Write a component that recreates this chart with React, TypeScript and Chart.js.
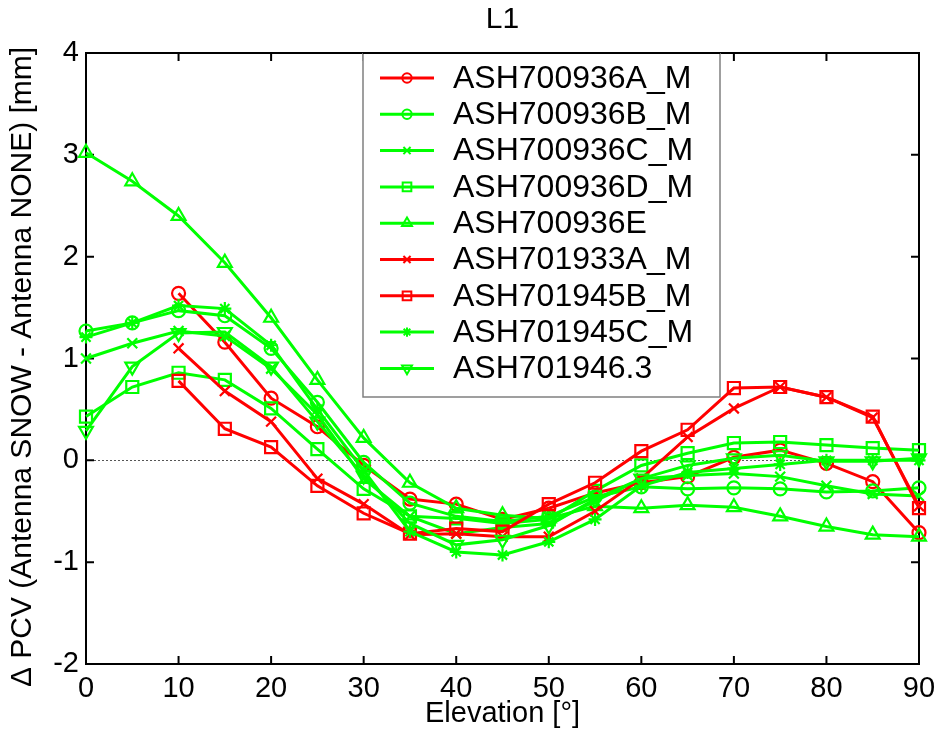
import React, { useEffect, useRef } from "react";
import { Chart, registerables } from "chart.js";

Chart.register(...registerables);

const ELEVATION = [0, 5, 10, 15, 20, 25, 30, 35, 40, 45, 50, 55, 60, 65, 70, 75, 80, 85, 90];
const X_TICKS = [0, 10, 20, 30, 40, 50, 60, 70, 80, 90];
const Y_TICKS = [-2, -1, 0, 1, 2, 3, 4];

const SERIES_NAMES = [
  "ASH700936A_M",
  "ASH700936B_M",
  "ASH700936C_M",
  "ASH700936D_M",
  "ASH700936E",
  "ASH701933A_M",
  "ASH701945B_M",
  "ASH701945C_M",
  "ASH701946.3",
];
const SERIES_COLORS = ["#ff0000", "#00ff00", "#00ff00", "#00ff00", "#00ff00", "#ff0000", "#ff0000", "#00ff00", "#00ff00"];
const SERIES_MARKERS = ["circle", "circle", "x", "square", "triangle", "x", "square", "star", "triangleDown"];

const ASH700936A_M = [null, null, 1.64, 1.16, 0.61, 0.33, -0.05, -0.38, -0.43, -0.58, -0.47, -0.32, -0.22, -0.16, 0.03, 0.1, -0.03, -0.21, -0.71];
const ASH700936B_M = [1.27, 1.35, 1.47, 1.42, 1.1, 0.57, -0.02, -0.42, -0.55, -0.6, -0.55, -0.36, -0.26, -0.28, -0.27, -0.28, -0.31, -0.3, -0.27];
const ASH700936C_M = [1.0, 1.15, 1.27, 1.22, 0.9, 0.45, -0.18, -0.55, -0.72, -0.66, -0.62, -0.4, -0.18, -0.15, -0.13, -0.16, -0.25, -0.33, -0.35];
const ASH700936D_M = [0.43, 0.72, 0.86, 0.79, 0.51, 0.11, -0.28, -0.55, -0.57, -0.62, -0.58, -0.3, -0.05, 0.07, 0.17, 0.18, 0.15, 0.12, 0.1];
const ASH700936E = [3.02, 2.74, 2.4, 1.94, 1.4, 0.79, 0.22, -0.22, -0.47, -0.54, -0.57, -0.45, -0.47, -0.44, -0.46, -0.55, -0.65, -0.73, -0.75];
const ASH701933A_M = [null, null, 1.1, 0.68, 0.38, -0.18, -0.43, -0.73, -0.72, -0.75, -0.75, -0.5, -0.18, 0.23, 0.51, 0.72, 0.62, 0.42, -0.45];
const ASH701945B_M = [null, null, 0.78, 0.31, 0.13, -0.25, -0.52, -0.72, -0.67, -0.7, -0.43, -0.22, 0.09, 0.3, 0.71, 0.72, 0.62, 0.43, -0.47];
const ASH701945C_M = [1.21, 1.35, 1.52, 1.49, 1.13, 0.5, -0.1, -0.7, -0.9, -0.93, -0.8, -0.58, -0.25, -0.12, -0.08, -0.04, 0.0, 0.0, 0.0];
const ASH701946_3 = [0.29, 0.92, 1.25, 1.26, 0.92, 0.38, -0.15, -0.62, -0.83, -0.78, -0.64, -0.38, -0.18, -0.05, 0.02, 0.05, -0.01, -0.01, 0.02];

const SERIES_VALUES = [
  ASH700936A_M,
  ASH700936B_M,
  ASH700936C_M,
  ASH700936D_M,
  ASH700936E,
  ASH701933A_M,
  ASH701945B_M,
  ASH701945C_M,
  ASH701946_3,
];

const TITLE = "L1";
const X_TITLE = "Elevation [°]";
const Y_TITLE = "Δ PCV (Antenna SNOW - Antenna NONE) [mm]";

const FONT = "'Liberation Sans', Arial, Helvetica, sans-serif";

const MARKER_STYLE: Record<string, { style: string; radius: number; rotation: number }> = {
  circle: { style: "circle", radius: 6.5, rotation: 0 },
  x: { style: "crossRot", radius: 7, rotation: 0 },
  square: { style: "rect", radius: 8.5, rotation: 0 },
  triangle: { style: "triangle", radius: 8, rotation: 0 },
  star: { style: "star", radius: 6.5, rotation: 0 },
  triangleDown: { style: "triangle", radius: 8, rotation: 180 },
};

function drawMarker(ctx: CanvasRenderingContext2D, kind: string, x: number, y: number, scale: number) {
  const m = MARKER_STYLE[kind];
  const r = m.radius * scale;
  ctx.beginPath();
  if (kind === "circle") {
    ctx.arc(x, y, r, 0, Math.PI * 2);
  } else if (kind === "x") {
    const d = r * Math.SQRT1_2;
    ctx.moveTo(x - d, y - d);
    ctx.lineTo(x + d, y + d);
    ctx.moveTo(x - d, y + d);
    ctx.lineTo(x + d, y - d);
  } else if (kind === "square") {
    const d = r * Math.SQRT1_2;
    ctx.rect(x - d, y - d, 2 * d, 2 * d);
  } else if (kind === "triangle" || kind === "triangleDown") {
    const s = kind === "triangle" ? 1 : -1;
    for (let k = 0; k < 3; k++) {
      const a = (k * 2 * Math.PI) / 3;
      const px = x + Math.sin(a) * r;
      const py = y - s * Math.cos(a) * r;
      if (k === 0) ctx.moveTo(px, py);
      else ctx.lineTo(px, py);
    }
    ctx.closePath();
  } else if (kind === "star") {
    const d = r * Math.SQRT1_2;
    ctx.moveTo(x - r, y);
    ctx.lineTo(x + r, y);
    ctx.moveTo(x, y - r);
    ctx.lineTo(x, y + r);
    ctx.moveTo(x - d, y - d);
    ctx.lineTo(x + d, y + d);
    ctx.moveTo(x - d, y + d);
    ctx.lineTo(x + d, y - d);
  }
  ctx.stroke();
}

const decorPlugin = {
  id: "decor",
  beforeDatasetsDraw(chart: any) {
    const { ctx, chartArea, scales } = chart;
    const { left, right, top, bottom } = chartArea;
    ctx.save();
    // zero dotted line
    const y0 = scales.y.getPixelForValue(0);
    ctx.strokeStyle = "#555555";
    ctx.lineWidth = 1;
    ctx.setLineDash([2, 2]);
    ctx.beginPath();
    ctx.moveTo(left, Math.round(y0) + 0.5);
    ctx.lineTo(right, Math.round(y0) + 0.5);
    ctx.stroke();
    ctx.setLineDash([]);
    // frame
    ctx.strokeStyle = "#000000";
    ctx.lineWidth = 2;
    ctx.strokeRect(left, top, right - left, bottom - top);
    // inward ticks
    const tl = 8;
    ctx.beginPath();
    X_TICKS.forEach((v) => {
      const x = scales.x.getPixelForValue(v);
      ctx.moveTo(x, bottom);
      ctx.lineTo(x, bottom - tl);
      ctx.moveTo(x, top);
      ctx.lineTo(x, top + tl);
    });
    Y_TICKS.forEach((v) => {
      const y = scales.y.getPixelForValue(v);
      ctx.moveTo(left, y);
      ctx.lineTo(left + tl, y);
      ctx.moveTo(right, y);
      ctx.lineTo(right - tl, y);
    });
    ctx.stroke();
    ctx.restore();
  },
  afterDatasetsDraw(chart: any) {
    const { ctx, chartArea } = chart;
    ctx.save();
    // legend box
    const lx = 363;
    const ly = chartArea.top;
    const lw = 357;
    const lh = 344;
    ctx.fillStyle = "#ffffff";
    ctx.fillRect(lx, ly + 1, lw, lh - 1);
    ctx.strokeStyle = "#808080";
    ctx.lineWidth = 1.5;
    ctx.beginPath();
    ctx.moveTo(lx, ly);
    ctx.lineTo(lx, ly + lh);
    ctx.lineTo(lx + lw, ly + lh);
    ctx.lineTo(lx + lw, ly);
    ctx.stroke();
    ctx.strokeStyle = "#000000";
    ctx.lineWidth = 2;
    ctx.beginPath();
    ctx.moveTo(lx, ly);
    ctx.lineTo(lx + lw, ly);
    ctx.stroke();
    ctx.font = `32px ${FONT}`;
    ctx.textBaseline = "middle";
    ctx.textAlign = "left";
    SERIES_NAMES.forEach((name, i) => {
      const y = 78 + i * 36.3;
      ctx.strokeStyle = SERIES_COLORS[i];
      ctx.lineWidth = 3;
      ctx.beginPath();
      ctx.moveTo(380, y);
      ctx.lineTo(434, y);
      ctx.stroke();
      ctx.lineWidth = 2;
      drawMarker(ctx, SERIES_MARKERS[i], 407, y, 0.72);
      ctx.fillStyle = "#000000";
      ctx.fillText(name, 453, y + 1);
    });
    ctx.restore();
  },
  afterDraw(chart: any) {
    const { ctx, chartArea } = chart;
    const cx = (chartArea.left + chartArea.right) / 2;
    ctx.save();
    ctx.fillStyle = "#000000";
    ctx.textAlign = "center";
    ctx.textBaseline = "middle";
    ctx.font = `30px ${FONT}`;
    ctx.fillText(TITLE, cx, 20);
    ctx.font = `29px ${FONT}`;
    ctx.fillText(X_TITLE, cx, 714);
    ctx.translate(23, 367);
    ctx.rotate(-Math.PI / 2);
    ctx.font = `30px ${FONT}`;
    ctx.fillText(Y_TITLE, 0, 0);
    ctx.restore();
  },
};

export default function App() {
  const ref = useRef<HTMLCanvasElement | null>(null);

  useEffect(() => {
    document.body.style.margin = "0";
    const canvas = ref.current;
    if (!canvas) return;
    const datasets = SERIES_NAMES.map((name, i) => {
      const m = MARKER_STYLE[SERIES_MARKERS[i]];
      const pts = ELEVATION.map((e, k) => ({ x: e, y: SERIES_VALUES[i][k] })).filter((p) => p.y !== null);
      return {
        label: name,
        data: pts,
        borderColor: SERIES_COLORS[i],
        backgroundColor: "rgba(0,0,0,0)",
        borderWidth: 3,
        pointStyle: m.style,
        pointRadius: m.radius,
        pointRotation: m.rotation,
        pointBorderColor: SERIES_COLORS[i],
        pointBackgroundColor: "rgba(0,0,0,0)",
        pointBorderWidth: 2.2,
        tension: 0,
        clip: false,
        order: SERIES_NAMES.length - i,
      };
    });
    const chart = new Chart(canvas, {
      type: "line",
      data: { datasets: datasets as any },
      options: {
        animation: false,
        responsive: false,
        devicePixelRatio: 1,
        layout: { padding: { top: 53, right: 20, bottom: 0, left: 0 } },
        plugins: { legend: { display: false }, tooltip: { enabled: false }, title: { display: false } },
        scales: {
          x: {
            type: "linear",
            min: 0,
            max: 90,
            afterFit: (s: any) => {
              s.height = 76;
              s.paddingLeft = 0;
              s.paddingRight = 0;
            },
            afterBuildTicks: (s: any) => {
              s.ticks = X_TICKS.map((v) => ({ value: v }));
            },
            grid: { display: false, drawTicks: false },
            border: { display: false },
            ticks: { font: { family: FONT, size: 29 }, color: "#000000", padding: 8, maxRotation: 0, autoSkip: false },
          },
          y: {
            type: "linear",
            min: -2,
            max: 4,
            afterFit: (s: any) => {
              s.width = 86;
              s.paddingTop = 0;
              s.paddingBottom = 0;
            },
            afterBuildTicks: (s: any) => {
              s.ticks = Y_TICKS.map((v) => ({ value: v }));
            },
            grid: { display: false, drawTicks: false },
            border: { display: false },
            ticks: { font: { family: FONT, size: 29 }, color: "#000000", padding: 7, autoSkip: false },
          },
        },
      },
      plugins: [decorPlugin],
    });
    return () => chart.destroy();
  }, []);

  return (
    <div style={{ position: "absolute", left: 0, top: 0, width: 939, height: 740, background: "#ffffff" }}>
      <canvas ref={ref} width={939} height={740} style={{ width: 939, height: 740, display: "block" }} />
    </div>
  );
}
